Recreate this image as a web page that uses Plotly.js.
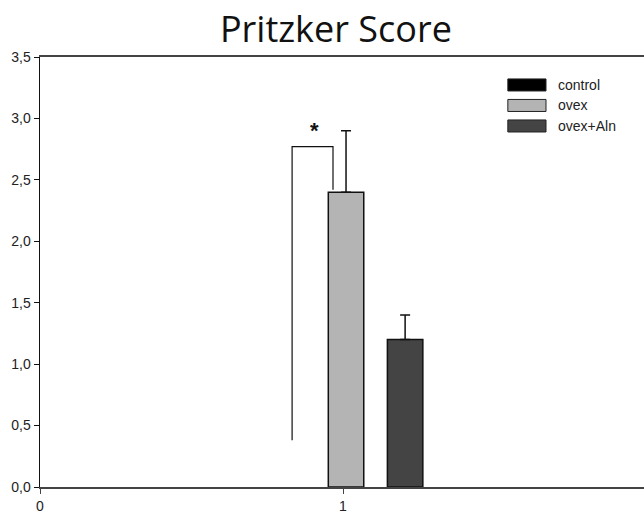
<!DOCTYPE html>
<html>
<head>
<meta charset="utf-8">
<script src="https://cdn.plot.ly/plotly-3.0.1.min.js"></script>
<style>html,body{margin:0;padding:0;overflow:hidden;background:#fff;}</style>
</head>
<body>
<div id="chart"></div>
<script>
// Data
const groups = ['control', 'ovex', 'ovex+Aln'];
const groupX = [0.81, 1.01, 1.205];
const groupMeans = [0.0, 2.4, 1.2];
const groupErr = [0.0, 0.5, 0.2];
const groupColors = ['#000000', '#b4b4b4', '#444444'];
const bracketX = [0.832, 0.832, 0.967, 0.967];
const bracketY = [0.38, 2.77, 2.77, 2.42];
const starPos = [0.905, 2.9];
const yTicks = [0, 0.5, 1, 1.5, 2, 2.5, 3, 3.5];
const xTicks = [0, 1, 2];

const traces = groups.map((g, i) => ({
  type: 'bar',
  name: g,
  x: [groupX[i]],
  y: [groupMeans[i]],
  width: 0.117,
  marker: {color: groupColors[i], line: {color: '#111', width: groupMeans[i] > 0 ? 1.5 : 0}},
  error_y: {type: 'data', array: [groupErr[i]], symmetric: false, arrayminus: [0],
            visible: groupErr[i] > 0, color: '#111', thickness: 1.5, width: 5},
  showlegend: false,
  hoverinfo: 'skip'
}));

traces.push({
  type: 'scatter', mode: 'lines', x: bracketX, y: bracketY,
  line: {color: '#111', width: 1.2}, showlegend: false, hoverinfo: 'skip'
});

// custom legend
const shapes = [];
const annotations = [];
groups.forEach((g, i) => {
  const yTop = 0.949 - i * 0.0477;
  shapes.push({type: 'rect', xref: 'paper', yref: 'paper',
    x0: 0.772, x1: 0.835, y0: yTop - 0.028, y1: yTop,
    fillcolor: groupColors[i], line: {color: '#222', width: 1}});
  annotations.push({xref: 'paper', yref: 'paper', x: 0.851, y: yTop - 0.014,
    text: g, showarrow: false, xanchor: 'left', yanchor: 'middle',
    font: {family: 'Liberation Sans, Arial, sans-serif', size: 14, color: '#222'}});
});
annotations.push({x: starPos[0], y: starPos[1], xref: 'x', yref: 'y', text: '<b>*</b>',
  showarrow: false, font: {family: 'Liberation Sans, Arial, sans-serif', size: 22, color: '#111'}});

const layout = {
  width: 646, height: 514,
  margin: {l: 40, r: 0, t: 57, b: 27},
  paper_bgcolor: '#fff', plot_bgcolor: '#fff',
  separators: ',.',
  title: {text: 'Pritzker Score', x: 0.52, xanchor: 'center', y: 0.943, yanchor: 'middle',
    font: {family: 'Open Sans, sans-serif', size: 36, color: '#111'}},
  barmode: 'overlay',
  xaxis: {range: [0, 2], tickvals: xTicks, ticktext: xTicks.map(String),
    showgrid: false, zeroline: false, showline: true, linecolor: '#444', linewidth: 2,
    mirror: true, ticks: 'outside', ticklen: 5, tickcolor: '#444', tickwidth: 1,
    tickfont: {family: 'Liberation Sans, Arial, sans-serif', size: 14, color: '#222'}},
  yaxis: {range: [0, 3.5], tickvals: yTicks, tickformat: '.1f',
    showgrid: false, zeroline: false, showline: true, linecolor: '#111', linewidth: 1.5,
    ticks: 'outside', ticklen: 5, tickcolor: '#111', tickwidth: 1,
    tickfont: {family: 'Liberation Sans, Arial, sans-serif', size: 14, color: '#222'}},
  shapes: shapes,
  annotations: annotations
};

Plotly.newPlot('chart', traces, layout, {displayModeBar: false, staticPlot: true});
</script>
</body>
</html>
